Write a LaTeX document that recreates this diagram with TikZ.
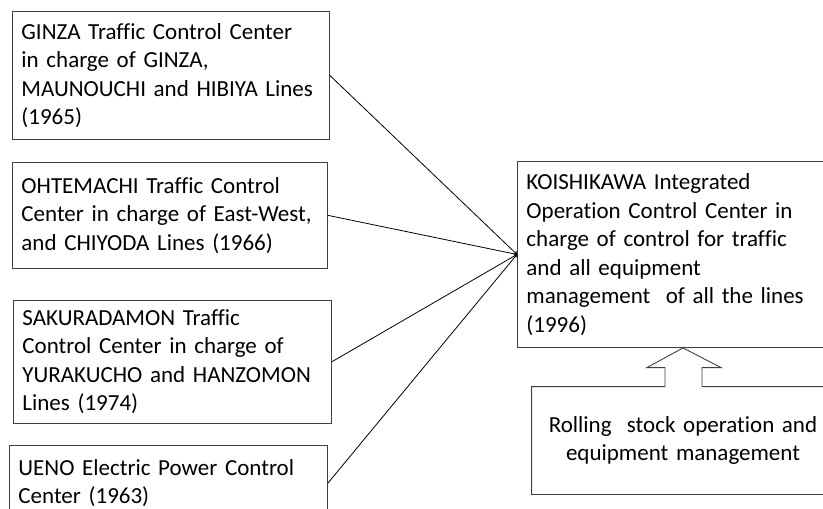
\documentclass[tikz,border=0pt]{standalone}
\usepackage{fontspec}
\setmainfont{Carlito}[Ligatures=NoCommon]
\usetikzlibrary{positioning,calc}

\begin{document}
\begin{tikzpicture}[
    x=1pt, y=1pt,
    box/.style={rectangle, draw=black!75, line width=0.9pt, align=left, inner xsep=9pt, inner ysep=0pt, font=\fontsize{23}{28.5}\selectfont},
    arrow/.style={->, line width=0.8pt}
]
\clip (0,0) rectangle (823,-509);
\node[box, anchor=north west, text width=299pt, minimum height=128pt] (ginza) at (12,-11)
  {GINZA Traffic Control Center\\in charge of GINZA,\\MAUNOUCHI and HIBIYA Lines\\(1965)};
\node[box, below right=22pt and 0pt of ginza.south west, text width=297pt, minimum height=106pt] (ohtemachi)
  {OHTEMACHI Traffic Control\\Center in charge of East-West,\\and CHIYODA Lines (1966)};
\node[box, below right=31pt and 1pt of ohtemachi.south west, text width=300pt, minimum height=123pt] (sakuradamon)
  {SAKURADAMON Traffic\\Control Center in charge of\\YURAKUCHO and HANZOMON\\Lines (1974)};
\node[box, below right=21pt and -4pt of sakuradamon.south west, text width=300pt, minimum height=76pt] (ueno)
  {UENO Electric Power Control\\Center (1963)};
\node[box, anchor=north west, text width=305pt, minimum height=186pt] (koishikawa) at (517,-161)
  {KOISHIKAWA Integrated\\Operation Control Center in\\charge of control for traffic\\and all equipment\\management~ of all the lines\\(1996)};
\node[box, draw=none, align=center, text width=284pt, minimum height=107pt] (rolling) at (683,-440.5)
  {Rolling~ stock operation and\\equipment management};

% callout outline round the rolling stock box
\draw[black!75, line width=0.9pt] (rolling.north west) -- ($(rolling.north)+(-18,0)$) -- ++(0,19) -- ++(-18,0)
  -- (rolling.north |- koishikawa.south) -- ($(rolling.north)+(38,19)$) -- ++(-19,0)
  -- ($(rolling.north)+(19,0)$) -- (rolling.north east) -- (rolling.south east) -- (rolling.south west) -- cycle;

\draw[arrow] (ginza.east) -- (koishikawa.west);
\draw[arrow] (ohtemachi.east) -- (koishikawa.west);
\draw[arrow] (sakuradamon.east) -- (koishikawa.west);
\draw[arrow] (ueno.east) -- (koishikawa.west);
\end{tikzpicture}
\end{document}
